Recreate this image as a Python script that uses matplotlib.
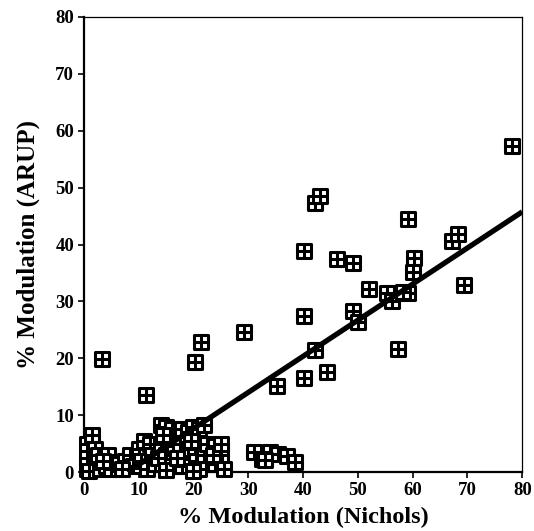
import numpy as np
import matplotlib
matplotlib.use("Agg")
import matplotlib.pyplot as plt
from matplotlib.path import Path

# Data
nichols = [
    # dense cluster near the origin
    0.5, 0.5, 0.5, 1.5, 2.0, 2.0, 1.0, 3.0, 2.5,
    4.0, 4.5, 5.0, 3.5,
    6.5, 7.5, 8.5, 9.0, 7.0,
    10.0, 11.0, 12.0, 10.5, 11.5, 12.5, 13.0,
    14.0, 15.0, 16.0, 14.0, 15.0, 13.5, 16.0, 15.0, 16.5, 14.5,
    18.0, 19.0, 20.0, 21.0, 22.0, 17.5, 19.0, 20.5, 18.0, 21.0, 22.0, 19.5, 17.0, 20.0, 22.5,
    24.0, 25.0, 24.0, 25.5, 23.5, 25.0,
    31.0, 32.5, 34.0, 35.5, 37.0, 38.5, 33.0,
    # scattered points
    3.3, 11.3, 20.3, 21.3, 29.2, 35.2, 40.1, 42.2, 43.1, 40.1, 42.2, 40.2,
    44.3, 46.2, 49.2, 49.2, 50.1, 52.1, 55.3, 56.2, 57.4, 59.1, 59.2, 58.3,
    60.3, 60.1, 67.2, 68.3, 69.3, 78.1,
]
arup = [
    0.5, 2.5, 5.0, 6.5, 4.0, 1.5, 0.2, 0.5, 3.0,
    1.0, 3.0, 0.5, 2.0,
    1.5, 2.0, 3.0, 1.0, 0.5,
    4.0, 5.5, 5.0, 2.0, 0.5, 3.0, 1.5,
    8.2, 8.0, 7.5, 5.0, 3.0, 2.5, 1.0, 0.3, 4.5, 6.5,
    7.5, 7.0, 8.0, 7.5, 8.2, 5.0, 4.0, 2.0, 1.0, 0.5, 3.0, 5.5, 2.5, 0.2, 5.0,
    4.5, 3.0, 1.5, 0.5, 3.0, 5.0,
    3.5, 2.3, 3.5, 3.2, 2.8, 1.8, 2.2,
    19.8, 13.5, 19.3, 22.9, 24.6, 15.1, 38.9, 47.3, 48.6, 27.4, 21.4, 16.6,
    17.6, 37.5, 36.8, 28.3, 26.4, 32.2, 31.5, 30.1, 21.6, 44.4, 31.5, 31.6,
    37.7, 35.1, 40.6, 41.8, 32.8, 57.3,
]

# Regression line
fit_slope = 0.635
fit_intercept = -5.05
x_max = 80

# Square with a cross inside
verts = [(-1, -1), (1, -1), (1, 1), (-1, 1), (-1, -1),
         (0, -1), (0, 1), (-1, 0), (1, 0)]
codes = [Path.MOVETO, Path.LINETO, Path.LINETO, Path.LINETO, Path.CLOSEPOLY,
         Path.MOVETO, Path.LINETO, Path.MOVETO, Path.LINETO]
box_cross = Path(verts, codes)

plt.rcParams['font.family'] = ['Liberation Serif', 'DejaVu Serif']
plt.rcParams['font.weight'] = 'bold'

fig = plt.figure(figsize=(5.34, 5.31), dpi=100)
ax = fig.add_axes([0.157, 0.111, 0.821, 0.857])

ax.scatter(nichols, arup, marker=box_cross, s=100, facecolors='white',
           edgecolors='black', linewidths=2.2, zorder=3, clip_on=False)

x0 = -fit_intercept / fit_slope
lx = np.array([x0, x_max])
ax.plot(lx, fit_intercept + fit_slope * lx, color='black', linewidth=3.8,
        solid_capstyle='butt', zorder=4)

ax.set_xlim(0, 80)
ax.set_ylim(0, 80)
ax.set_xticks(range(0, 81, 10))
ax.set_yticks(range(0, 81, 10))
ax.tick_params(direction='out', length=4, width=1.2, labelsize=13.5)
ax.tick_params(axis='y', pad=3)
ax.tick_params(axis='x', pad=3)
for lab in ax.get_xticklabels() + ax.get_yticklabels():
    lab.set_fontweight('bold')

for side in ['left', 'bottom']:
    ax.spines[side].set_linewidth(1.6)
for side in ['top', 'right']:
    ax.spines[side].set_linewidth(0.9)

ax.set_xlabel('% Modulation (Nichols)', fontsize=17.5, fontweight='bold', labelpad=6)
ax.set_ylabel('% Modulation (ARUP)', fontsize=18, fontweight='bold', labelpad=11)

fig.savefig('out.png', dpi=100)
